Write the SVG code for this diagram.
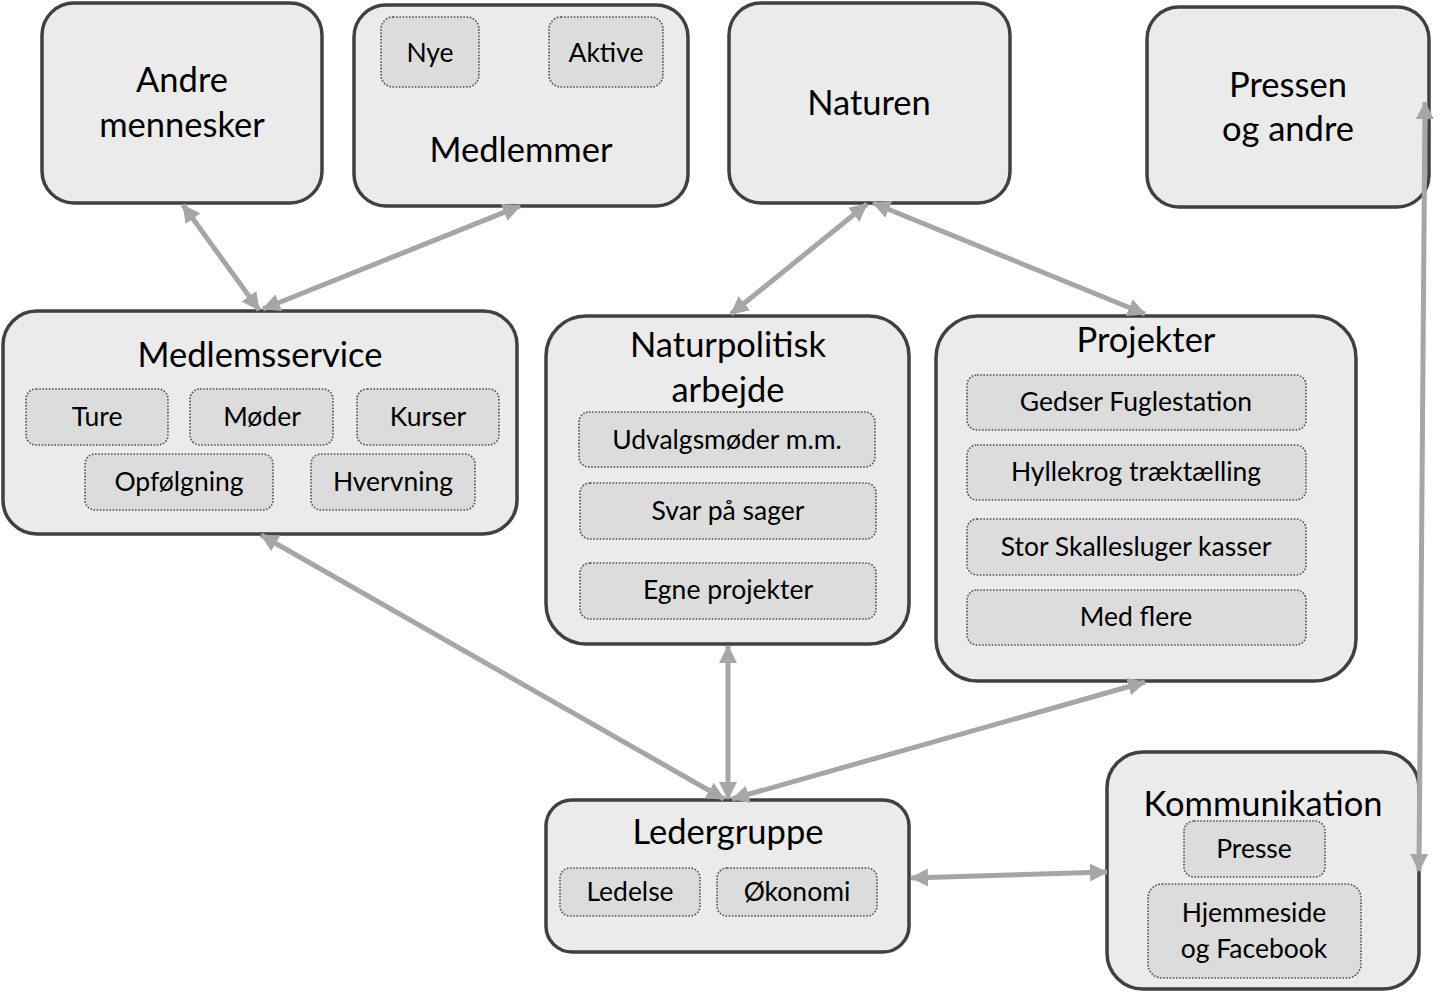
<svg xmlns="http://www.w3.org/2000/svg" width="1447" height="992" viewBox="0 0 1447 992">
<defs>
<marker id="ah" viewBox="0 0 18 18" refX="17" refY="9" markerWidth="18" markerHeight="18" markerUnits="userSpaceOnUse" orient="auto-start-reverse">
<path d="M0,0 L18,9 L0,18 z" fill="#a6a6a6"/>
</marker>
<style>
.n{fill:#ebebeb;stroke:#404040;stroke-width:3.5}
.s{fill:#dcdcdc;stroke:#505050;stroke-width:1.6;stroke-dasharray:1.6 1.6}
.t{font-family:Lato,"Liberation Sans",sans-serif;font-size:34.5px;fill:#000;text-anchor:middle}
.u{font-family:Lato,"Liberation Sans",sans-serif;font-size:26.5px;fill:#000;text-anchor:middle}
.c{stroke:#a6a6a6;stroke-width:5;fill:none;marker-start:url(#ah);marker-end:url(#ah)}
</style>
</defs>
<rect width="1447" height="992" fill="#fff"/>
<g id="andre">
<rect class="n" x="42" y="3" width="280" height="200" rx="32"/>
<text class="t" x="182" y="92">Andre</text>
<text class="t" x="182" y="137">mennesker</text>
</g>
<g id="medlemmer">
<rect class="n" x="354" y="5" width="334" height="201" rx="32"/>
<rect class="s" x="381" y="17" width="98" height="70" rx="12"/>
<text class="u" x="430" y="62">Nye</text>
<rect class="s" x="549" y="17" width="114" height="70" rx="12"/>
<text class="u" x="606" y="62">Aktive</text>
<text class="t" x="521" y="162">Medlemmer</text>
</g>
<g id="naturen">
<rect class="n" x="729" y="3" width="281" height="200" rx="32"/>
<text class="t" x="869" y="115">Naturen</text>
</g>
<g id="pressen">
<rect class="n" x="1147" y="7" width="282" height="200" rx="32"/>
<text class="t" x="1288" y="97">Pressen</text>
<text class="t" x="1288" y="141">og andre</text>
</g>
<g id="medlemsservice">
<rect class="n" x="3" y="311" width="514" height="223" rx="34"/>
<text class="t" x="260" y="367">Medlemsservice</text>
<rect class="s" x="26" y="389" width="142" height="56" rx="10"/>
<text class="u" x="97" y="426">Ture</text>
<rect class="s" x="190" y="389" width="143" height="56" rx="10"/>
<text class="u" x="262" y="426">Møder</text>
<rect class="s" x="357" y="389" width="142" height="56" rx="10"/>
<text class="u" x="428" y="426">Kurser</text>
<rect class="s" x="85" y="454" width="188" height="56" rx="10"/>
<text class="u" x="179" y="491">Opfølgning</text>
<rect class="s" x="311" y="454" width="164" height="56" rx="10"/>
<text class="u" x="393" y="491">Hvervning</text>
</g>
<g id="naturpolitisk">
<rect class="n" x="546" y="316" width="363" height="328" rx="40"/>
<text class="t" x="728" y="357">Naturpolitisk</text>
<text class="t" x="728" y="402">arbejde</text>
<rect class="s" x="579" y="412" width="296" height="55" rx="10"/>
<text class="u" x="727" y="449">Udvalgsmøder m.m.</text>
<rect class="s" x="580" y="483" width="296" height="56" rx="10"/>
<text class="u" x="728" y="520">Svar på sager</text>
<rect class="s" x="580" y="563" width="296" height="56" rx="10"/>
<text class="u" x="728" y="599">Egne projekter</text>
</g>
<g id="projekter">
<rect class="n" x="936" y="316" width="420" height="365" rx="42"/>
<text class="t" x="1146" y="352">Projekter</text>
<rect class="s" x="967" y="375" width="339" height="55" rx="10"/>
<text class="u" x="1136" y="411">Gedser Fuglestation</text>
<rect class="s" x="967" y="445" width="339" height="55" rx="10"/>
<text class="u" x="1136" y="481">Hyllekrog træktælling</text>
<rect class="s" x="967" y="519" width="339" height="56" rx="10"/>
<text class="u" x="1136" y="556">Stor Skallesluger kasser</text>
<rect class="s" x="967" y="590" width="339" height="55" rx="10"/>
<text class="u" x="1136" y="626">Med flere</text>
</g>
<g id="ledergruppe">
<rect class="n" x="546" y="800" width="363" height="152" rx="26"/>
<text class="t" x="728" y="844">Ledergruppe</text>
<rect class="s" x="560" y="868" width="140" height="48" rx="10"/>
<text class="u" x="630" y="901">Ledelse</text>
<rect class="s" x="717" y="868" width="160" height="48" rx="10"/>
<text class="u" x="797" y="901">Økonomi</text>
</g>
<g id="kommunikation">
<rect class="n" x="1107" y="752" width="312" height="237" rx="36"/>
<text class="t" x="1263" y="816">Kommunikation</text>
<rect class="s" x="1184" y="821" width="141" height="56" rx="10"/>
<text class="u" x="1254" y="858">Presse</text>
<rect class="s" x="1148" y="884" width="213" height="94" rx="14"/>
<text class="u" x="1254" y="922">Hjemmeside</text>
<text class="u" x="1254" y="958">og Facebook</text>
</g>
<g id="connectors">
<line class="c" x1="183" y1="205" x2="259" y2="310"/>
<line class="c" x1="520" y1="206" x2="263" y2="309"/>
<line class="c" x1="867" y1="204" x2="731" y2="314"/>
<line class="c" x1="873" y1="203" x2="1145" y2="314"/>
<line class="c" x1="261" y1="535" x2="724" y2="799"/>
<line class="c" x1="728" y1="646" x2="728" y2="799"/>
<line class="c" x1="1145" y1="682" x2="732" y2="799"/>
<line class="c" x1="911" y1="878" x2="1107" y2="872"/>
<line class="c" x1="1425" y1="102" x2="1419" y2="871"/>
</g>
</svg>
